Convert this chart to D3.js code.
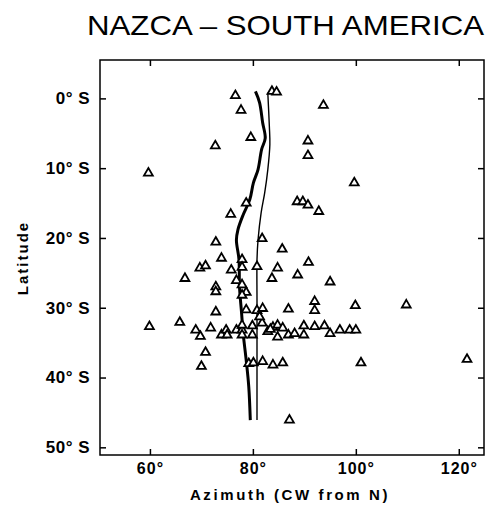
<!DOCTYPE html>
<html><head><meta charset="utf-8">
<script src="https://cdn.jsdelivr.net/npm/d3@7"></script>
<style>body{margin:0;background:#fff}svg{display:block}</style>
</head><body><svg id="c" width="490" height="508"></svg>
<script>
const azimuth = [76.6,77.7,79.6,72.7,59.7,78.7,75.7,81.8,85.7,72.8,73.9,83.7,84.6,93.7,90.7,90.7,99.7,88.6,89.7,90.7,92.8,
  69.7,70.8,75.8,77.9,77.9,80.8,84.8,83.7,88.7,66.8,76.8,77.9,72.8,72.8,78.7,77.9,72.8,78.7,80.8,81.9,86.9,
  59.9,65.8,68.9,69.8,71.8,73.9,74.8,75.0,76.8,77.9,77.9,79.9,79.9,81.8,82.9,83.9,84.8,85.8,84.8,86.9,88.1,
  70.8,70.0,79.2,80.1,81.9,83.9,85.8,87.1,90.8,95.0,81.3,92.0,92.0,99.9,109.8,83.4,89.9,89.9,92.0,93.9,95.0,
  96.9,98.8,100.0,101.0,121.6,77.9];
const latitude = [-0.4,1.7,5.6,6.8,10.7,15.0,16.6,20.1,21.6,20.6,22.9,-1.0,-0.9,1.0,6.1,8.2,12.1,14.8,14.8,15.3,16.2,
  24.3,24.0,24.6,23.1,24.2,24.1,24.3,25.8,25.3,25.8,26.1,26.7,27.0,27.7,27.8,28.2,30.6,30.3,30.4,30.1,30.2,
  32.7,32.1,33.2,34.1,32.9,33.9,33.2,33.9,33.2,33.2,33.9,32.6,33.9,32.2,33.4,32.8,32.5,32.9,34.2,33.9,33.7,
  36.4,38.4,38.0,37.9,37.7,38.2,37.9,46.1,23.5,26.3,31.3,29.1,30.4,29.7,29.6,33.1,32.6,33.9,32.7,32.6,33.7,
  33.2,33.2,33.2,37.9,37.4,32.5];
const thickAz  = [80.5,81.3,81.9,82.4,81.7,81.0,80.1,79.4,78.1,77.1,76.8,77.3,77.4,77.8,78.1,78.7,79.2,79.5];
const thickLat = [-1.0,0.6,3.5,5.7,7.3,10.2,12.1,14.5,16.7,18.8,20.3,23.1,27.0,30.7,33.6,37.5,41.3,46.1];
const thinAz   = [82.9,83.2,83.3,82.9,82.3,81.6,81.0,80.8,80.8,80.8,80.8];
const thinLat  = [-0.8,4.0,6.6,10.2,13.5,16.4,20.3,23.1,28.9,37.5,46.1];
const xTicks = [60,80,100,120];
const yTicks = [0,10,20,30,40,50];
const title = "NAZCA \u2013 SOUTH AMERICA";
const xTitle = "Azimuth (CW from N)";
const yTitle = "Latitude";

const svg = d3.select("#c");
const x = d3.scaleLinear().domain([50.3,124.9]).range([100,484]);
const y = d3.scaleLinear().domain([-5.5,51.1]).range([60,455]);
const font = "'Liberation Sans', Arial, Helvetica, sans-serif";

svg.append("text").attr("x",87).attr("y",35).attr("font-family",font).attr("font-size",28)
  .attr("textLength",397).attr("lengthAdjust","spacingAndGlyphs").text(title);

const g = svg.append("g");
g.append("rect").attr("x",x.range()[0]).attr("y",y.range()[0])
  .attr("width",x.range()[1]-x.range()[0]).attr("height",y.range()[1]-y.range()[0])
  .attr("fill","none").attr("stroke","#000").attr("stroke-width",1.5);

const xb = g.append("g").attr("transform",`translate(0,${y.range()[1]})`)
  .call(d3.axisBottom(x).tickValues(xTicks).tickSize(-6).tickFormat(d=>d+"\u00B0"));
const xt = g.append("g").attr("transform",`translate(0,${y.range()[0]})`)
  .call(d3.axisTop(x).tickValues(xTicks).tickSize(-6).tickFormat(""));
const yl = g.append("g").attr("transform",`translate(${x.range()[0]},0)`)
  .call(d3.axisLeft(y).tickValues(yTicks).tickSize(-6).tickFormat(d=>d+"\u00B0 S"));
const yr = g.append("g").attr("transform",`translate(${x.range()[1]},0)`)
  .call(d3.axisRight(y).tickValues(yTicks).tickSize(-6).tickFormat(""));
[xb,xt,yl,yr].forEach(a=>{a.select(".domain").remove();a.selectAll("line").attr("stroke","#000").attr("stroke-width",1.5);});
xb.selectAll("text").attr("font-family",font).attr("font-size",16).attr("font-weight","bold").attr("dy","1.0em").attr("letter-spacing",1).attr("fill","#000");
yl.selectAll("text").attr("font-family",font).attr("font-size",17).attr("font-weight","bold").attr("x",-10).attr("letter-spacing",0.5).attr("fill","#000");

svg.append("text").attr("x",(x.range()[0]+x.range()[1])/2-2).attr("y",500).attr("text-anchor","middle")
  .attr("font-family",font).attr("font-size",15).attr("font-weight","bold").attr("letter-spacing",2.6).attr("fill","#000").text(xTitle);
svg.append("text").attr("transform","translate(28,258) rotate(-90)").attr("text-anchor","middle")
  .attr("font-family",font).attr("font-size",15).attr("font-weight","bold").attr("letter-spacing",2).attr("fill","#000").text(yTitle);

const line = d3.line().curve(d3.curveCatmullRom).x(d=>x(d[0])).y(d=>y(d[1]));
g.append("path").datum(thickAz.map((a,i)=>[a,thickLat[i]])).attr("d",line)
  .attr("fill","none").attr("stroke","#000").attr("stroke-width",3);
g.append("path").datum(thinAz.map((a,i)=>[a,thinLat[i]])).attr("d",line)
  .attr("fill","none").attr("stroke","#000").attr("stroke-width",1.4);

const tri = d3.symbol().type(d3.symbolTriangle).size(34);
g.selectAll("path.t").data(azimuth.map((a,i)=>[a,latitude[i]])).join("path").attr("class","t")
  .attr("transform",d=>`translate(${x(d[0])},${y(d[1])})`).attr("d",tri)
  .attr("fill","#fff").attr("stroke","#000").attr("stroke-width",1.8);
</script></body></html>
